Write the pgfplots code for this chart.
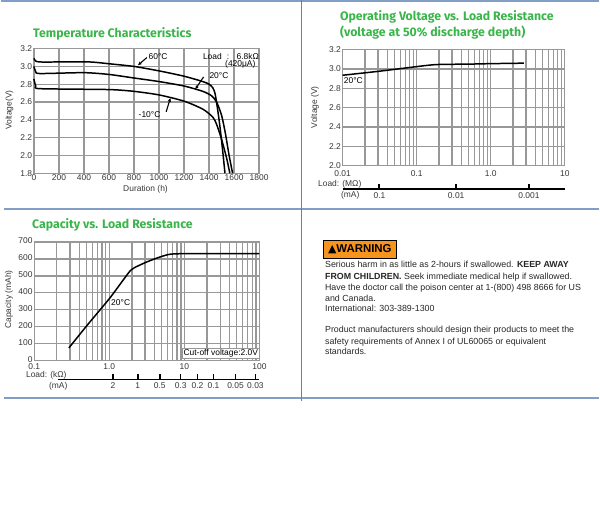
\documentclass[border=0pt]{standalone}
\usepackage{fontspec}
\setmainfont{Liberation Sans}
\newfontfamily\titlefont{Fira Sans}
\newfontfamily\symfont{DejaVu Sans}
\usepackage{pgfplots}
\pgfplotsset{compat=1.18}
\usetikzlibrary{arrows.meta}

\definecolor{titlegreen}{RGB}{57,181,74}
\definecolor{gridgray}{RGB}{152,152,152}
\definecolor{panelblue}{RGB}{128,158,198}
\definecolor{panelline}{RGB}{95,130,180}
\definecolor{warnorange}{RGB}{247,148,30}
\definecolor{labelgray}{RGB}{55,55,55}

\newcommand\tinyfont{\fontsize{8.5}{9}\selectfont}
\newcommand\notefont{\fontsize{8.5}{9}\selectfont}
\newcommand\bodyfont{\fontsize{8.9}{10}\selectfont}
\newcommand\headfont{\titlefont\bfseries\fontsize{12.4}{13}\selectfont\color{titlegreen}}

\pgfplotsset{
  sheet/.style={
    scale only axis,
    anchor=south west,
    axis line style={gridgray, line width=1.3bp},
    grid style={gridgray, line width=1.3bp},
    major tick length=0pt, minor tick length=0pt,
    tick label style={font=\tinyfont, text=labelgray},
    xticklabel style={anchor=north, inner sep=1.5bp},
    yticklabel style={anchor=east, inner sep=1.5bp},
    /pgf/number format/assume math mode=true,
    clip=false,
  },
  curve/.style={black, line width=1.5bp, no marks, smooth, tension=0.4},
}
\tikzset{pointer/.style={-{Stealth[length=4bp,width=3.5bp]}, line width=1.1bp}}

% data
\pgfplotstableread{
h    v
0    3.09
15   3.06
50   3.05
200  3.05
450  3.05
600  3.03
800  3.00
1000 2.95
1200 2.89
1350 2.83
1400 2.80
1430 2.76
1450 2.68
1480 2.40
1505 2.10
1527 1.80
}\tsixty
\pgfplotstableread{
h    v
0    3.00
15   2.94
50   2.92
400  2.93
600  2.91
800  2.87
1000 2.83
1200 2.78
1350 2.72
1420 2.67
1460 2.60
1500 2.45
1530 2.25
1560 2.00
1588 1.80
}\ttwenty
\pgfplotstableread{
h    v
0    2.86
15   2.78
50   2.75
600  2.74
800  2.72
1000 2.68
1200 2.61
1350 2.52
1430 2.43
1460 2.35
1500 2.18
1540 1.97
1566 1.80
}\tminus
\pgfplotstableread{
r     v
0.01  2.935
0.03  2.975
0.08  3.015
0.18  3.045
0.5   3.050
1     3.055
2.8   3.060
}\topv
\pgfplotstableread{
r    c
0.29 75
0.5  205
1.0  365
1.5  470
1.9  530
2.2  550
3    578
4    600
5    615
6.5  628
10   631
100  632
}\tcap

\begin{document}
\begin{tikzpicture}
\path (0,0) rectangle (600bp,529bp);

% panel rules
\draw[panelblue, line width=2bp] (0,528bp) -- (600bp,528bp);
\draw[panelblue, line width=2bp] (3bp,319.7bp) -- (600bp,319.7bp);
\draw[panelblue, line width=2bp] (3bp,130bp) -- (600bp,130bp);
\draw[panelline, line width=1bp] (302bp,529bp) -- (302bp,127bp);

% ---------- Temperature Characteristics ----------
\node[anchor=west, inner sep=0] at (32bp,496bp) {\headfont Temperature Characteristics};
\begin{axis}[sheet, at={(33bp,355.7bp)}, width=226bp, height=125bp,
  xmin=0, xmax=1800, ymin=1.8, ymax=3.2,
  xtick={0,200,400,600,800,1000,1200,1400,1600,1800},
  xticklabels={0,200,400,600,800,1000,1200,1400,1600,1800},
  ytick={1.8,2.0,2.2,2.4,2.6,2.8,3.0,3.2},
  yticklabels={1.8,2.0,2.2,2.4,2.6,2.8,3.0,3.2},
  grid=major]
\addplot[curve] table[x=h, y=v] {\tsixty};
\addplot[curve] table[x=h, y=v] {\ttwenty};
\addplot[curve] table[x=h, y=v] {\tminus};
\node[anchor=west, inner sep=0, font=\notefont] at (axis cs:916,3.114) {60°C};
\draw[pointer] (axis cs:903,3.10) -- (axis cs:832,3.014);
\node[anchor=east, inner sep=0, font=\notefont] at (axis cs:1800,3.114) {Load\,\, :\,\,\, 6.8kΩ};
\node[anchor=east, inner sep=0, font=\notefont] at (axis cs:1772,3.025) {(420μA)};
\node[anchor=west, inner sep=0, font=\notefont] at (axis cs:1402,2.898) {20°C};
\draw[pointer] (axis cs:1356,2.882) -- (axis cs:1290,2.745);
\node[anchor=west, inner sep=0, font=\notefont] at (axis cs:836,2.464) {-10°C};
\draw[pointer] (axis cs:1057,2.49) -- (axis cs:1091,2.645);
\end{axis}
\node[font=\tinyfont, text=labelgray] at (145bp,340bp) {Duration (h)};
\node[font=\tinyfont, text=labelgray, rotate=90] at (8.5bp,419bp) {Voltage(V)};

% ---------- Operating Voltage vs. Load Resistance ----------
\node[anchor=west, inner sep=0] at (340bp,512.3bp) {\headfont Operating Voltage vs. Load Resistance};
\node[anchor=west, inner sep=0] at (340bp,496.7bp) {\headfont (voltage at 50\% discharge depth)};
\begin{axis}[sheet, at={(342.7bp,363.3bp)}, width=223bp, height=116.4bp,
  xmode=log, xmin=0.01, xmax=10, ymin=2.0, ymax=3.2,
  xtick={0.01,0.1,1,10}, xticklabels={0.01,0.1,1.0,10},
  xticklabel style={yshift=-3.5bp},
  ytick={2.0,2.2,2.4,2.6,2.8,3.0,3.2},
  yticklabels={2.0,2.2,2.4,2.6,2.8,3.0,3.2},
  grid=both, minor grid style={gridgray, line width=1.3bp}]
\addplot[curve] table[x=r, y=v] {\topv};
\node[anchor=west, inner sep=0.5bp, font=\notefont] at (axis cs:0.0102,2.883) {20°C};
\draw[line width=1.3bp] ([yshift=-23.3bp]axis cs:0.01,2.0) -- ([yshift=-23.3bp]axis cs:10,2.0);
\draw[line width=2bp] ([yshift=-23.3bp]axis cs:0.0315,2.0) -- ([yshift=-18.3bp]axis cs:0.0315,2.0);
\draw[line width=2bp] ([yshift=-23.3bp]axis cs:0.342,2.0) -- ([yshift=-18.3bp]axis cs:0.342,2.0);
\draw[line width=2bp] ([yshift=-23.3bp]axis cs:3.28,2.0) -- ([yshift=-18.3bp]axis cs:3.28,2.0);
\node[anchor=north, inner sep=1bp, font=\tinyfont, text=labelgray] at ([yshift=-25.5bp]axis cs:0.0315,2.0) {0.1};
\node[anchor=north, inner sep=1bp, font=\tinyfont, text=labelgray] at ([yshift=-25.5bp]axis cs:0.342,2.0) {0.01};
\node[anchor=north, inner sep=1bp, font=\tinyfont, text=labelgray] at ([yshift=-25.5bp]axis cs:3.28,2.0) {0.001};
\end{axis}
\node[anchor=west, inner sep=0, font=\tinyfont, text=labelgray] at (318bp,344.5bp) {Load: (MΩ)};
\node[anchor=west, inner sep=0, font=\tinyfont, text=labelgray] at (341bp,334bp) {(mA)};
\node[font=\tinyfont, text=labelgray, rotate=90] at (315bp,422bp) {Voltage (V)};

% ---------- Capacity vs. Load Resistance ----------
\node[anchor=west, inner sep=0] at (31bp,304bp) {\headfont Capacity vs. Load Resistance};
\begin{axis}[sheet, at={(33.3bp,167.7bp)}, width=226bp, height=119bp,
  xmode=log, xmin=0.1, xmax=100, ymin=0, ymax=700,
  xtick={0.1,1,10,100}, xticklabels={0.1,1.0,10,100},
  xticklabel style={yshift=-1.5bp},
  ytick={0,100,200,300,400,500,600,700},
  yticklabels={0,100,200,300,400,500,600,700},
  yticklabel style={yshift=1bp},
  grid=both, minor grid style={gridgray, line width=1.3bp}]
\addplot[curve] table[x=r, y=c] {\tcap};
\node[anchor=west, inner sep=0.5bp, font=\notefont] at (axis cs:1.04,343) {20°C};
\node[anchor=south east, draw=gridgray, fill=white, inner sep=1.2bp, font=\notefont] at (axis cs:100,13) {Cut-off voltage:2.0V};
\draw[line width=1.3bp] ([yshift=-18.7bp]axis cs:0.207,0) -- ([yshift=-18.7bp]axis cs:98,0);
\draw[line width=1.6bp] ([yshift=-18.7bp]axis cs:1.12,0) -- ([yshift=-13.7bp]axis cs:1.12,0);
\draw[line width=1.6bp] ([yshift=-18.7bp]axis cs:2.40,0) -- ([yshift=-13.7bp]axis cs:2.40,0);
\draw[line width=1.6bp] ([yshift=-18.7bp]axis cs:4.71,0) -- ([yshift=-13.7bp]axis cs:4.71,0);
\draw[line width=1.6bp] ([yshift=-18.7bp]axis cs:8.93,0) -- ([yshift=-13.7bp]axis cs:8.93,0);
\draw[line width=1.6bp] ([yshift=-18.7bp]axis cs:15.0,0) -- ([yshift=-13.7bp]axis cs:15.0,0);
\draw[line width=1.6bp] ([yshift=-18.7bp]axis cs:24.5,0) -- ([yshift=-13.7bp]axis cs:24.5,0);
\draw[line width=1.6bp] ([yshift=-18.7bp]axis cs:48.0,0) -- ([yshift=-13.7bp]axis cs:48.0,0);
\draw[line width=1.6bp] ([yshift=-18.7bp]axis cs:88.5,0) -- ([yshift=-13.7bp]axis cs:88.5,0);
\node[anchor=north, inner sep=1bp, font=\tinyfont, text=labelgray] at ([yshift=-21bp]axis cs:1.12,0) {2};
\node[anchor=north, inner sep=1bp, font=\tinyfont, text=labelgray] at ([yshift=-21bp]axis cs:2.40,0) {1};
\node[anchor=north, inner sep=1bp, font=\tinyfont, text=labelgray] at ([yshift=-21bp]axis cs:4.71,0) {0.5};
\node[anchor=north, inner sep=1bp, font=\tinyfont, text=labelgray] at ([yshift=-21bp]axis cs:8.93,0) {0.3};
\node[anchor=north, inner sep=1bp, font=\tinyfont, text=labelgray] at ([yshift=-21bp]axis cs:15.0,0) {0.2};
\node[anchor=north, inner sep=1bp, font=\tinyfont, text=labelgray] at ([yshift=-21bp]axis cs:24.5,0) {0.1};
\node[anchor=north, inner sep=1bp, font=\tinyfont, text=labelgray] at ([yshift=-21bp]axis cs:48.0,0) {0.05};
\node[anchor=north, inner sep=1bp, font=\tinyfont, text=labelgray] at ([yshift=-21bp]axis cs:88.5,0) {0.03};
\end{axis}
\node[anchor=west, inner sep=0, font=\tinyfont, text=labelgray] at (25bp,153bp) {Load: (kΩ)};
\node[anchor=west, inner sep=0, font=\tinyfont, text=labelgray] at (48bp,142bp) {(mA)};
\node[font=\tinyfont, text=labelgray, rotate=90] at (8bp,229bp) {Capacity (mAh)};

% ---------- Warning ----------
\draw[black, line width=0.8bp, fill=warnorange] (323bp,270bp) rectangle (397bp,288bp);
\node[inner sep=0] at (360bp,279bp) {{\symfont\fontsize{11}{11}\selectfont ▲}{\bfseries\fontsize{11.5}{11}\selectfont WARNING}};
\begin{scope}[every node/.style={anchor=base west, inner sep=0, font=\bodyfont, text=black!85}]
\node at (325bp,261bp) {Serious harm in as little as 2-hours if swallowed. \textbf{KEEP AWAY}};
\node at (325bp,249bp) {\textbf{FROM CHILDREN.} Seek immediate medical help if swallowed.};
\node at (325bp,238bp) {Have the doctor call the poison center at 1-(800) 498 8666 for US};
\node at (325bp,227bp) {and Canada.};
\node at (325bp,216.5bp) {International: 303-389-1300};
\node at (325bp,196bp) {Product manufacturers should design their products to meet the};
\node at (325bp,184bp) {safety requirements of Annex I of UL60065 or equivalent};
\node at (325bp,174bp) {standards.};
\end{scope}
\end{tikzpicture}
\end{document}
